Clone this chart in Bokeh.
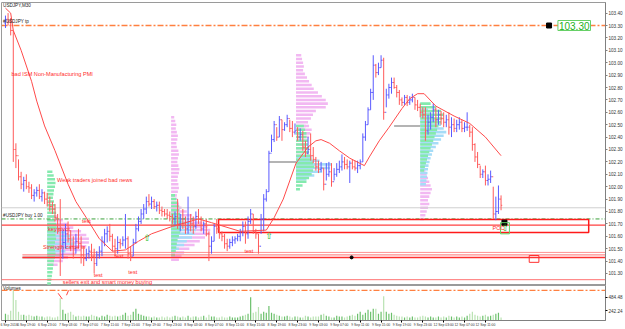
from bokeh.plotting import figure
from bokeh.layouts import column
from bokeh.models import Range1d, FixedTicker, Label, PrintfTickFormatter
from bokeh.core.properties import value
from bokeh.embed import file_html
from bokeh.resources import INLINE

# ---------------- data ----------------
first_open = 103.32
close = [
    103.35, 103.33, 103.26, 102.30, 102.25,
    102.08, 102.02, 102.05, 102.00, 101.99,
    101.93, 101.95, 101.97, 101.92, 101.95,
    101.90, 101.87, 101.84, 101.82, 101.75,
    101.66, 101.45, 101.55, 101.62, 101.58,
    101.52, 101.50, 101.56, 101.54, 101.45,
    101.42, 101.46, 101.48, 101.44, 101.38,
    101.45, 101.48, 101.56, 101.62, 101.64,
    101.60, 101.52, 101.50, 101.55, 101.54,
    101.57, 101.58, 101.46, 101.44, 101.55,
    101.66, 101.72, 101.78, 101.82, 101.88,
    101.86, 101.88, 101.84, 101.85, 101.81,
    101.80, 101.78, 101.77, 101.76, 101.74,
    101.76, 101.70, 101.74, 101.70, 101.66,
    101.72, 101.70, 101.68, 101.76, 101.74,
    101.66, 101.70, 101.62, 101.52, 101.56,
    101.68, 101.66, 101.62, 101.60, 101.54,
    101.52, 101.55, 101.57, 101.58, 101.60,
    101.64, 101.68, 101.62, 101.72, 101.78,
    101.64, 101.62, 101.52, 101.74, 101.90,
    101.96, 102.27, 102.38, 102.50, 102.40,
    102.54, 102.46, 102.50, 102.55, 102.47,
    102.44, 102.45, 102.40, 102.42, 102.32,
    102.27, 102.30, 102.25, 102.22, 102.16,
    102.14, 102.15, 102.02, 102.10, 102.12,
    102.04, 102.10, 102.14, 102.16, 102.20,
    102.18, 102.16, 102.19, 102.16, 102.15,
    102.17, 102.20, 102.40, 102.50, 102.62,
    102.76, 102.98, 102.92, 102.96, 103.02,
    102.60, 102.74, 102.80, 102.84, 102.80,
    102.76, 102.70, 102.68, 102.72, 102.68,
    102.70, 102.72, 102.66, 102.64, 102.60,
    102.58, 102.45, 102.52, 102.56, 102.62,
    102.54, 102.58, 102.55, 102.52, 102.54,
    102.48, 102.50, 102.47, 102.50, 102.52,
    102.47, 102.48, 102.48, 102.44, 102.34,
    102.24, 102.18, 102.10, 102.12, 102.05,
    102.06, 102.08, 101.78, 101.80, 101.90,
    101.85,
]
high = [
    103.38, 103.40, 103.36, 103.26, 102.35,
    102.22, 102.12, 102.08, 102.10, 102.04,
    102.02, 101.98, 102.00, 102.02, 101.98,
    101.96, 101.95, 101.92, 101.88, 101.86,
    101.78, 101.90, 101.66, 101.70, 101.72,
    101.65, 101.60, 101.62, 101.66, 101.60,
    101.52, 101.50, 101.52, 101.54, 101.50,
    101.48, 101.52, 101.60, 101.66, 101.68,
    101.70, 101.62, 101.58, 101.60, 101.58,
    101.60, 101.78, 101.60, 101.52, 101.58,
    101.70, 101.76, 101.82, 101.86, 101.92,
    101.94, 101.92, 101.90, 101.88, 101.88,
    101.84, 101.82, 101.82, 101.80, 101.78,
    101.80, 101.90, 101.78, 101.82, 101.76,
    101.92, 101.78, 101.76, 101.80, 101.82,
    101.76, 101.72, 101.74, 101.64, 101.60,
    101.70, 101.74, 101.68, 101.64, 101.62,
    101.58, 101.58, 101.60, 101.60, 101.62,
    101.66, 101.72, 101.72, 101.76, 101.82,
    101.78, 101.66, 101.62, 101.78, 101.94,
    101.98, 102.29, 102.42, 102.53, 102.48,
    102.57, 102.54, 102.52, 102.58, 102.54,
    102.53, 102.51, 102.48, 102.47, 102.45,
    102.37, 102.40, 102.43, 102.32, 102.24,
    102.21, 102.20, 102.15, 102.19, 102.20,
    102.19, 102.15, 102.19, 102.21, 102.26,
    102.24, 102.22, 102.21, 102.22, 102.21,
    102.21, 102.22, 102.43, 102.53, 102.64,
    102.79, 103.06, 102.99, 103.00, 103.06,
    103.04, 102.79, 102.83, 102.88, 102.88,
    102.82, 102.78, 102.72, 102.74, 102.74,
    102.73, 102.75, 102.72, 102.70, 102.67,
    102.64, 102.64, 102.58, 102.60, 102.67,
    102.64, 102.62, 102.61, 102.60, 102.58,
    102.60, 102.56, 102.55, 102.54, 102.56,
    102.54, 102.52, 102.60, 102.50, 102.48,
    102.35, 102.28, 102.17, 102.14, 102.17,
    102.10, 102.13, 102.00, 101.92, 102.01,
    101.93,
]
low = [
    103.28, 103.30, 103.22, 102.20, 102.15,
    102.05, 101.98, 101.96, 101.98, 101.95,
    101.90, 101.88, 101.92, 101.90, 101.88,
    101.86, 101.84, 101.80, 101.78, 101.72,
    101.62, 101.28, 101.42, 101.50, 101.55,
    101.48, 101.42, 101.46, 101.50, 101.38,
    101.36, 101.40, 101.42, 101.40, 101.30,
    101.36, 101.42, 101.44, 101.52, 101.55,
    101.56, 101.48, 101.44, 101.46, 101.50,
    101.52, 101.50, 101.42, 101.40, 101.44,
    101.54, 101.64, 101.70, 101.74, 101.78,
    101.84, 101.82, 101.82, 101.80, 101.78,
    101.76, 101.76, 101.74, 101.72, 101.70,
    101.68, 101.66, 101.64, 101.66, 101.62,
    101.62, 101.64, 101.62, 101.66, 101.70,
    101.64, 101.62, 101.60, 101.40, 101.46,
    101.56, 101.62, 101.58, 101.56, 101.50,
    101.48, 101.50, 101.52, 101.54, 101.56,
    101.56, 101.60, 101.54, 101.58, 101.70,
    101.62, 101.58, 101.46, 101.62, 101.64,
    101.88, 101.96, 102.28, 102.36, 102.37,
    102.40, 102.37, 102.45, 102.48, 102.44,
    102.40, 102.42, 102.37, 102.37, 102.29,
    102.24, 102.26, 102.21, 102.19, 102.13,
    102.11, 102.12, 101.97, 102.05, 102.08,
    102.00, 102.05, 102.08, 102.11, 102.13,
    102.14, 102.14, 102.03, 102.14, 102.13,
    102.11, 102.14, 102.20, 102.37, 102.50,
    102.62, 102.70, 102.88, 102.90, 102.96,
    102.54, 102.64, 102.71, 102.75, 102.79,
    102.72, 102.66, 102.65, 102.66, 102.65,
    102.66, 102.68, 102.62, 102.61, 102.56,
    102.55, 102.37, 102.42, 102.46, 102.52,
    102.48, 102.50, 102.50, 102.48, 102.48,
    102.42, 102.40, 102.44, 102.44, 102.46,
    102.44, 102.44, 102.45, 102.40, 102.29,
    102.20, 102.15, 102.07, 102.07, 102.01,
    102.01, 102.03, 101.74, 101.73, 101.78,
    101.81,
]
volume = [
    7, 6, 10, 31, 21, 9, 6, 6, 5, 6,
    5, 4, 5, 4, 4, 3, 4, 4, 3, 3,
    4, 23, 11, 7, 8, 9, 6, 4, 5, 4,
    5, 4, 4, 6, 5, 4, 3, 5, 4, 6,
    5, 4, 5, 4, 5, 6, 8, 5, 6, 9,
    12, 7, 6, 5, 4, 4, 3, 4, 3, 3,
    4, 3, 4, 3, 4, 5, 4, 3, 4, 3,
    5, 3, 4, 4, 3, 4, 5, 3, 6, 4,
    4, 3, 3, 4, 3, 3, 4, 3, 3, 3,
    4, 5, 6, 7, 24, 8, 9, 14, 7, 9,
    8, 15, 8, 7, 6, 5, 4, 4, 5, 4,
    3, 4, 4, 3, 3, 5, 4, 3, 4, 4,
    4, 6, 7, 5, 4, 3, 3, 5, 4, 4,
    3, 4, 5, 6, 5, 7, 9, 6, 8, 11,
    9, 12, 12, 7, 9, 25, 9, 7, 8, 6,
    5, 4, 4, 3, 4, 3, 4, 3, 3, 4,
    5, 4, 3, 4, 3, 3, 4, 3, 4, 3,
    5, 4, 3, 4, 3, 4, 3, 5, 7, 9,
    6, 5, 4, 5, 6, 4, 5, 6, 7, 8,
    3,
]
# moving average (bar index, value)
ma_idx = [0, 2, 3, 6, 10, 12, 15, 19, 24, 27, 31, 36, 41, 46, 51, 56, 64, 74, 79, 90,
          100, 103, 106.5, 111.4, 116, 119, 121, 124.3, 128, 132, 135.7, 137.6, 139.5, 143.3,
          147.1, 152, 155, 158, 160.5, 165, 172, 178, 184, 190]
ma_val = [103.44, 103.40, 103.26, 103.10, 102.85, 102.69, 102.49, 102.29, 102.02, 101.88,
          101.75, 101.58, 101.48, 101.49, 101.56, 101.62, 101.68, 101.74, 101.71, 101.64,
          101.65, 101.75, 101.90, 102.19, 102.32, 102.37, 102.38, 102.35, 102.29, 102.23,
          102.19, 102.17, 102.24, 102.37, 102.48, 102.63, 102.71, 102.75, 102.75, 102.65,
          102.57, 102.51, 102.40, 102.25]

# volume profiles: (start bar, top price, row step, widths in bars, colour key)
profiles = [
    (16.0, 101.76, 0.03, [4, 6, 8, 10, 13, 15, 16, 16, 15, 13, 11, 8, 6, 4], "pink"),
    (16.0, 101.66, 0.03, [5, 7, 9, 10, 10.5, 9, 7, 5], "blue"),
    (16.0, 102.12, 0.03, [2.0, 2.5, 3.0, 3.2, 3.0, 2.6, 2.4, 2.2, 2.6, 3.0, 3.2, 3.4, 3.2, 3.0, 3.4, 3.6,
                          3.4, 3.2, 3.4, 3.0, 2.8, 3.0, 3.2, 3.0, 2.6, 2.4, 2.2, 2.0, 1.8, 1.6, 1.4], "green"),
    (63.5, 102.56, 0.03, [1.2, 1.6, 2.0, 1.8, 2.2, 2.6, 2.4, 2.0, 2.2, 2.8, 3.0, 2.6, 2.4, 2.8, 3.2, 3.0,
                          2.6, 2.4, 2.8, 3.0, 2.6, 2.2, 2.4, 2.8, 3.2, 3.4, 3.0], "pink"),
    (63.5, 101.86, 0.03, [3, 4, 6, 8, 10, 12, 14, 15, 15, 13, 11, 9, 7, 5, 4, 3], "pink"),
    (63.5, 101.77, 0.03, [4, 6, 8, 9, 9.5, 9, 8, 6, 5, 3], "blue"),
    (63.5, 101.93, 0.03, [1.5, 2, 2.5, 3, 3, 3.5, 3.8, 4, 4, 3.8, 3.5, 3, 2.5, 2.2, 2, 1.8, 1.5], "green"),
    (111.4, 103.06, 0.03, [2, 2.3, 2.7, 3, 2.7, 3.4, 4.2, 5, 6, 6.8, 8.4, 9.9, 11.4, 12.2, 11.4, 7.6,
                           6.5, 5.7, 4.6, 3.8, 3], "pink"),
    (111.4, 102.49, 0.03, [5, 6, 5.5, 5, 4.5, 4, 3.5, 3, 2.5], "pink"),
    (111.4, 102.24, 0.03, [6, 9, 13.5, 13, 10, 7, 4], "blue"),
    (111.4, 102.49, 0.03, [3, 3.5, 4, 4, 4.5, 4.5, 5, 5, 5.5, 6, 6.5, 7, 6.5, 6, 5, 4, 2.5, 1.5], "green"),
    (159.0, 102.16, 0.03, [1.5, 2, 2.5, 3, 3.5, 4, 4.5, 4, 3.5, 3, 3.5, 3, 2.5, 2, 1.5], "pink"),
    (159.0, 102.62, 0.03, [3, 4, 5, 7, 8, 9, 10, 9, 8, 7, 6, 5, 4.5, 4, 3.6, 3.2, 3, 2.8, 2.6, 2.4, 2.2], "blue"),
    (159.0, 102.67, 0.03, [4, 6, 8, 9, 8.5, 8, 7, 6.5, 6, 5.5, 5, 4.5, 4, 3.5, 3, 2.6, 2.2, 1.8, 1.5], "green"),
]
# POC extension lines: (from bar, to bar, price)
poc_lines = [(6.5, 16.0, 101.43), (101.0, 111.4, 102.20), (149.0, 159.0, 102.49)]

tp_price = 103.30
buy_price = 101.74
bid_price = 101.83
zone = (81.7, 223.6, 101.63, 101.735)      # left bar, right bar, bottom, top
levels = [(-1.5, 101.69, "#ff4040", 1.2), (32.3, 101.47, "#ff9090", 1.0), (6.5, 101.45, "#ff7070", 1.0),
          (6.5, 101.43, "#ff3030", 1.5), (-1.5, 101.25, "#ff7070", 1.0)]
axis_boxes = [(101.83, "101.83", "#d0d0d0"), (101.71, "101.71", "#ff1010"),
              (101.45, "101.45", "#ff1010"), (101.25, "101.25", "#ff1010")]

notes = ["bad ISM Non-Manufacturing PMI", "Weak traders joined bad news", "key pivot", "test",
         "Strength came in", "test", "test", "test", "sellers exit and smart money buying", "test", "POC"]
note_bar = [2.3, 19.8, 16.3, 29.3, 14.4, 41.8, 33.8, 47.1, 22.0, 91.6, 186.7]
note_price = [102.91, 102.05, 101.66, 101.72, 101.51, 101.44, 101.29, 101.31, 101.235, 101.485, 101.67]

arrow_bar = [54.4, 101.1, 191.6]
arrow_price = [101.59, 101.60, 101.665]

price_ticks = [101.30, 101.40, 101.50, 101.60, 101.70, 101.80, 101.90, 102.00, 102.10, 102.20,
               102.30, 102.40, 102.50, 102.60, 102.70, 102.80, 102.90, 103.00, 103.10, 103.20,
               103.30, 103.40]
time_ticks = [0, 8, 16, 24, 32, 40, 48, 56, 64, 72, 80, 88, 96, 104, 112, 120, 128, 136, 144,
              152, 160, 168, 176, 184]
time_labels = ["6 Sep 2016", "6 Sep 19:00", "6 Sep 23:00", "7 Sep 03:00", "7 Sep 07:00",
               "7 Sep 11:00", "7 Sep 15:00", "7 Sep 19:00", "7 Sep 23:00", "8 Sep 03:00",
               "8 Sep 07:00", "8 Sep 11:00", "8 Sep 15:00", "8 Sep 19:00", "8 Sep 23:00",
               "9 Sep 03:00", "9 Sep 07:00", "9 Sep 11:00", "9 Sep 15:00", "9 Sep 19:00",
               "9 Sep 23:00", "12 Sep 03:00", "12 Sep 07:00", "12 Sep 11:00"]
vol_ticks = [10, 24]
vol_labels = ["242.24", "484.48"]

# ---------------- styling ----------------
FONT = value("Liberation Sans")
UP, DOWN = "#5a5aff", "#ff5a5a"
PCOL = {"pink": "#f2b8f2", "blue": "#a6dcf7", "green": "#84eaae"}
X0, X1 = -1.52, 230.04

n = len(close)
idx = list(range(n))
opens = [first_open] + close[:-1]
bar_col = [UP if c >= o else DOWN for o, c in zip(opens, close)]

p = figure(width=625, height=285, x_range=Range1d(X0, X1), y_range=Range1d(101.2032, 103.4855),
           output_backend="svg", toolbar_location=None, x_axis_location=None,
           y_axis_location="right", min_border_left=1, min_border_right=15,
           min_border_top=2, min_border_bottom=0)
p.grid.visible = False
p.outline_line_color = "#9a9a9a"
p.background_fill_color = "white"
p.border_fill_color = "white"
ya = p.yaxis[0]
ya.ticker = FixedTicker(ticks=price_ticks)
ya.formatter = PrintfTickFormatter(format="%.2f")
ya.major_label_text_font_size = "4.6px"
ya.major_label_text_font = "Liberation Sans"
ya.major_label_text_color = "#333333"
ya.major_tick_out = 2
ya.major_tick_in = 0
ya.minor_tick_line_color = None
ya.major_label_standoff = 1
ya.axis_line_color = "#808080"
ya.major_tick_line_color = "#808080"

# profiles
for start, top, step, widths, key in profiles:
    ys = [top - k * step for k in range(len(widths))]
    p.hbar(y=ys, left=start, right=[start + w for w in widths], height=step * 0.68,
           fill_color=PCOL[key], line_color=None)
for a, b, pr in poc_lines:
    p.segment(x0=[a], y0=[pr], x1=[b], y1=[pr], line_color="#b4b4b4", line_width=2)

# horizontal lines
p.segment(x0=[X0], y0=[tp_price], x1=[X1], y1=[tp_price], line_color="#ff8040", line_width=1.3,
          line_dash="6 2 2 2")
p.segment(x0=[X0], y0=[bid_price], x1=[X1], y1=[bid_price], line_color="#cfcfcf", line_width=1)
p.segment(x0=[X0], y0=[buy_price], x1=[X1], y1=[buy_price], line_color="#3aa03a", line_width=1,
          line_dash="4 2 1 2")
for start, pr, col, lw in levels:
    p.segment(x0=[start], y0=[pr], x1=[X1], y1=[pr], line_color=col, line_width=lw)
p.quad(left=[zone[0]], right=[zone[1]], bottom=[zone[2]], top=[zone[3]], fill_color=None,
       line_color="#ff1a1a", line_width=1.5)
p.quad(left=[200.8], right=[204.5], bottom=[101.39], top=[101.445], fill_color=None,
       line_color="#ff3030", line_width=1)

# price bars
p.segment(x0=idx, y0=low, x1=idx, y1=high, line_color=bar_col, line_width=1)
p.segment(x0=[i - 0.45 for i in idx], y0=opens, x1=idx, y1=opens, line_color=bar_col, line_width=1)
p.segment(x0=idx, y0=close, x1=[i + 0.45 for i in idx], y1=close, line_color=bar_col, line_width=1)

# moving average
p.line(ma_idx, ma_val, line_color="#ff4a4a", line_width=1)

# markers
p.scatter(x=[208.4, 191.3], y=[tp_price, 101.71], marker="square", size=5, color="black")
p.scatter(x=[132.7], y=[101.43], marker="circle", size=3, color="black")
p.quad(left=[189.8], right=[193.2], bottom=[101.62], top=[101.71], fill_color=None,
       line_color="#60d060", line_width=1)
p.text(x=arrow_bar, y=arrow_price, text=["\u21e7"] * 3, text_font=value("DejaVu Sans"),
       text_font_size="9px", text_color="#22bb22", text_align="center", text_baseline="middle")

# annotations
p.text(x=note_bar, y=note_price, text=notes, text_font=FONT, text_font_size="5.6px",
       text_color="#ff2a2a", text_baseline="middle", text_align="left")
p.text(x=[-0.9], y=[103.482], text=["USDJPY,M30"], text_font=FONT,
       text_font_size="4.6px", text_color="#222222", text_baseline="top", text_align="left")
p.text(x=[-0.9, -0.9], y=[103.31, 101.745], text=["#USDJPY tp", "#USDJPY buy 1.00"], text_font=FONT,
       text_font_size="4.6px", text_color="#222222", text_baseline="bottom", text_align="left")
lab = Label(x=211.8, y=tp_price, text="103.30", text_color="#22b022", text_font_size="10px",
            text_font="Liberation Sans", text_baseline="middle", text_align="left",
            border_line_color="#66d066", background_fill_color="white", padding=1)
p.add_layout(lab)
for pr, txt, col in axis_boxes:
    p.add_layout(Label(x=X1 + 0.6, y=pr, text=txt, text_color="white" if col != "#d0d0d0" else "#999999",
                       text_font_size="4.6px", text_font="Liberation Sans", text_baseline="middle",
                       text_align="left", background_fill_color=col, padding=0))

# ---------------- volume panel ----------------
v = figure(width=625, height=44, x_range=p.x_range, y_range=Range1d(0, 36),
           output_backend="svg", toolbar_location=None, y_axis_location="right",
           min_border_left=1, min_border_right=15, min_border_top=0, min_border_bottom=0)
v.grid.visible = False
v.outline_line_color = "#9a9a9a"
vol_col = ["#6cc06c" if c >= o else "#b9e2b2" for o, c in zip(opens, close)]
v.segment(x0=idx, y0=[0] * n, x1=idx, y1=volume, line_color=vol_col, line_width=1.2)
v.segment(x0=[X0], y0=[31], x1=[X1], y1=[31], line_color="#ff8040", line_width=1.2, line_dash="6 2 2 2")
v.segment(x0=[20.2, 24.2], y0=[28, 31], x1=[21.8, 23.4], y1=[22, 26], line_color="#ff4040", line_width=1)
v.text(x=[-0.9], y=[35.5], text=["Volumes"], text_font=FONT, text_font_size="4.6px",
       text_color="#222222", text_baseline="top")
va = v.yaxis[0]
va.ticker = FixedTicker(ticks=vol_ticks)
va.major_label_overrides = {t: s for t, s in zip(vol_ticks, vol_labels)}
va.major_label_text_font_size = "4.6px"
va.major_label_text_font = "Liberation Sans"
va.major_label_text_color = "#333333"
va.major_tick_out = 2
va.major_tick_in = 0
va.minor_tick_line_color = None
va.major_label_standoff = 1
va.axis_line_color = "#808080"
xa = v.xaxis[0]
xa.ticker = FixedTicker(ticks=time_ticks)
xa.major_label_overrides = {t: s for t, s in zip(time_ticks, time_labels)}
xa.major_label_text_font_size = "3.4px"
xa.major_label_text_font = "Liberation Sans"
xa.major_label_text_color = "#333333"
xa.major_tick_out = 2
xa.major_tick_in = 0
xa.minor_tick_line_color = None
xa.major_label_standoff = 0
xa.axis_line_color = "#808080"

layout = column(p, v, spacing=0)
open("out.html", "w").write(file_html(layout, INLINE))
